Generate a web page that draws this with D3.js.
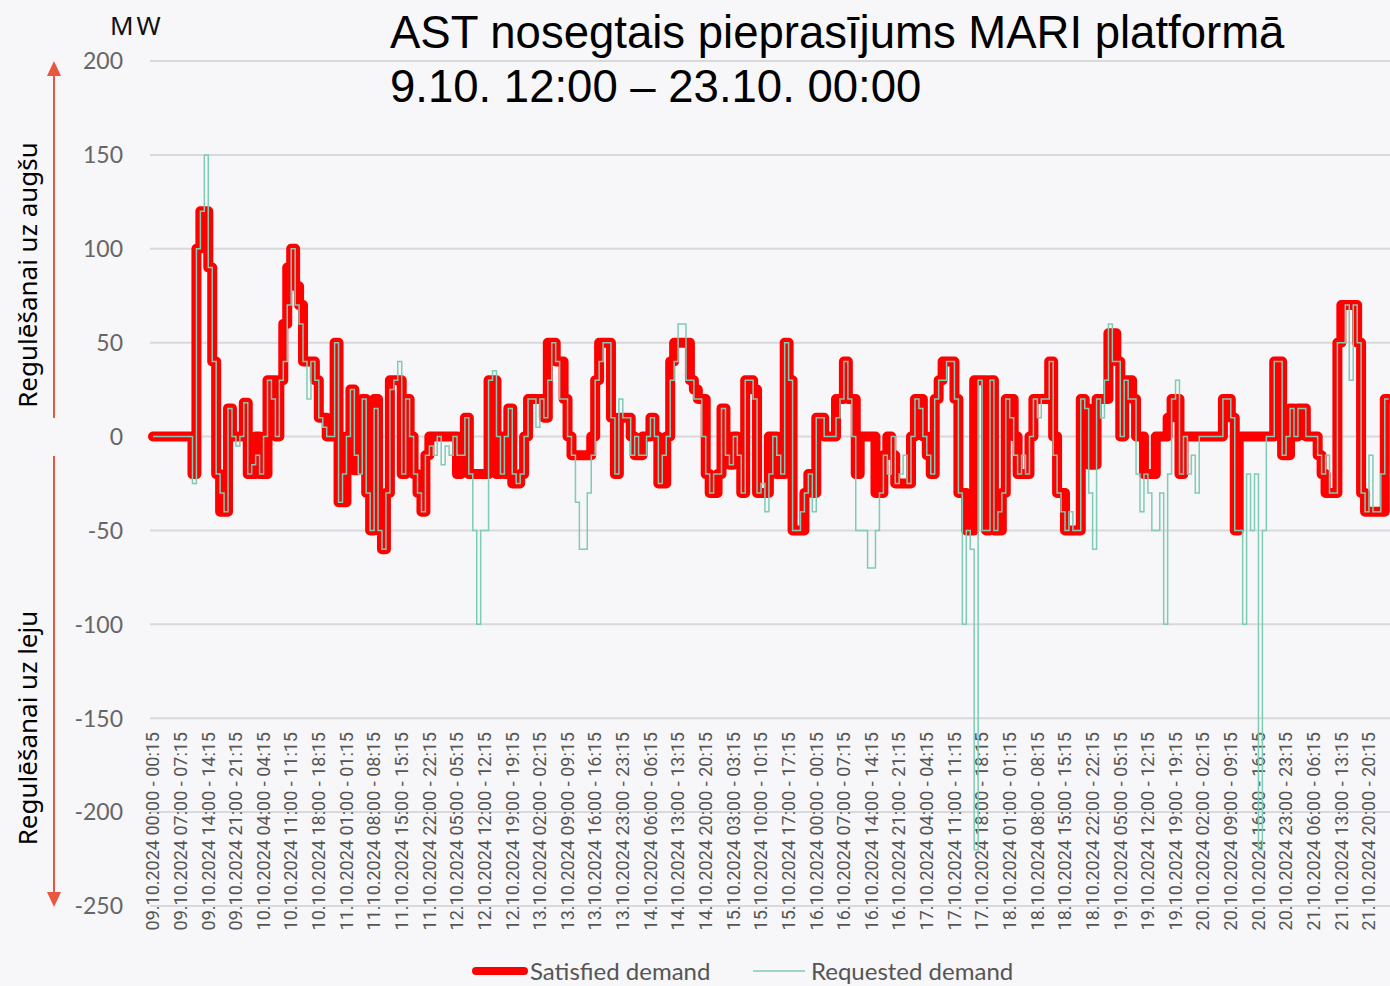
<!DOCTYPE html>
<html>
<head>
<meta charset="utf-8"/>
<script src="https://cdn.jsdelivr.net/npm/d3@7"></script>
<style>
body { margin: 0; background: #f7f6f8; }
svg { display: block; }
.grid line { stroke: #d9d8db; stroke-width: 2px; }
.ytick { font: 23px Lato, sans-serif; fill: #666; text-anchor: end; }
.xtick { font: 18px Roboto, sans-serif; fill: #555; text-anchor: end; }
.satisfied { fill: none; stroke: #ff0000; stroke-width: 10px; stroke-linejoin: round; stroke-linecap: round; }
.requested { fill: none; stroke: #7fcbb4; stroke-width: 1.5px; }
.legend { font: 24px Lato, sans-serif; fill: #555; }
.side { font: 26px "Noto Sans", sans-serif; fill: #000; text-anchor: middle; }
.title { font: 45.5px "Liberation Sans", Arial, sans-serif; fill: #000; }
</style>
</head>
<body>
<script>

// hourly values from 09.10.2024 00:00 (MW)
var satisfied = [
  0,0,0,0,0,0,0,0,0,0,
  -20,100,120,120,90,40,-20,-40,-40,15,
  0,0,0,18,-20,-20,0,-20,-20,30,
  30,0,30,60,90,100,80,70,40,40,
  40,30,10,10,0,0,50,-35,-35,0,
  25,-18,0,20,-30,-50,20,-50,-60,-30,
  30,30,30,-20,20,0,-20,-30,-40,-10,
  0,0,0,0,0,0,0,-20,0,10,
  -20,-20,-20,-20,-20,30,30,-20,0,-20,
  15,-25,-25,-20,0,20,20,20,20,10,
  50,50,40,40,20,0,-10,-10,-10,-10,
  -10,0,30,50,50,50,10,-20,10,10,
  10,0,-10,-10,0,0,10,0,-25,-25,
  0,40,50,50,50,50,30,25,20,20,
  -20,-30,-30,-20,15,0,-15,0,-15,-30,
  30,30,25,-30,-30,-30,0,0,-20,-20,
  50,30,-50,-50,-50,-30,-20,-30,10,10,
  0,0,0,20,20,40,20,20,-20,0,
  0,0,0,-30,-30,-10,0,-10,-25,-25,
  -25,-25,0,20,20,0,-10,-20,20,30,
  40,40,40,20,-30,-30,-50,-50,30,30,
  30,-50,30,-50,-50,-30,20,20,0,-20,
  -20,-20,0,20,20,20,20,40,0,-30,
  -30,-50,-50,-50,-50,20,15,-15,-15,20,
  20,20,55,55,40,0,30,30,20,0,
  0,-20,-20,-20,0,0,0,10,20,20,
  -20,0,0,0,0,0,0,0,0,0,
  0,20,20,10,-50,0,0,0,0,0,
  0,0,0,0,40,40,-10,-10,15,0,
  15,15,0,0,0,-10,-20,-30,-30,-30,
  50,70,70,70,70,50,-30,-40,-40,-40,
  -40,-40,20,20
];

var requested = [
  0,0,0,0,0,0,0,0,0,0,
  -25,100,120,150,90,40,-20,-30,-40,15,
  0,-5,0,18,-20,-15,-10,-20,0,30,
  20,0,30,40,70,100,70,60,40,20,
  40,30,10,5,0,0,50,-35,-20,0,
  25,-10,-20,20,-30,-50,15,-50,-60,-30,
  25,30,40,-20,20,0,-20,-30,-40,-10,
  -5,-10,0,-15,-5,-10,0,-10,-10,10,
  -20,-50,-100,-50,-50,30,35,0,-20,0,
  15,-20,-25,-20,0,20,20,5,20,10,
  30,50,40,20,20,0,-10,-35,-60,-60,
  -30,-10,30,40,50,50,10,-20,20,10,
  10,-10,0,-10,-10,0,10,0,-25,-10,
  0,30,40,60,60,30,30,20,20,0,
  -20,-30,-20,-20,15,-10,-15,0,-10,-30,
  30,30,20,-30,-25,-40,-20,0,-10,-20,
  50,30,-50,-50,-40,-30,-20,-40,10,10,
  0,0,0,10,20,40,20,0,-50,-50,
  -50,-70,-70,-50,-30,-10,-20,0,-25,-20,
  -10,-25,0,20,15,0,-10,-20,20,30,
  30,40,40,20,-30,-100,-50,-60,-220,30,
  -50,-50,30,-50,-40,-30,20,10,-10,-20,
  -10,-20,0,20,10,20,20,40,-10,-30,
  -40,-50,-40,-50,-50,20,15,-30,-60,20,
  10,30,60,40,40,0,30,20,20,-20,
  -40,-20,-30,-50,-50,-30,-100,-20,20,30,
  -20,0,-20,-10,-30,0,0,0,0,0,
  0,20,20,10,-50,-50,-100,-20,-50,-20,
  -220,-50,0,0,40,40,-10,0,15,0,
  15,15,0,0,0,-10,-20,-10,-30,-30,
  50,50,70,30,70,50,-30,-40,-10,-40,
  -40,-20,20,20
];

var yTicks = [200, 150, 100, 50, 0, -50, -100, -150, -200, -250];
var tickStepHours = 7;
var lastTickHour = 308;

var width = 1390, height = 986;
var start = new Date(2024, 9, 9, 0, 0);
var end = new Date(2024, 9, 23, 0, 0);

var x = d3.scaleTime()
    .domain([start, end])
    .range([153, 153 + 336 * 3.948]);

var y = d3.scaleLinear()
    .domain([-250, 200])
    .range([906, 61]);

var svg = d3.select("body").append("svg")
    .attr("width", width)
    .attr("height", height);

svg.append("rect")
    .attr("width", width)
    .attr("height", height)
    .attr("fill", "#f7f6f8");

// grid
svg.append("g").attr("class", "grid")
  .selectAll("line")
  .data(yTicks)
  .enter().append("line")
    .attr("x1", 150)
    .attr("x2", width)
    .attr("y1", function(d) { return y(d); })
    .attr("y2", function(d) { return y(d); });

svg.append("g")
  .selectAll("text")
  .data(yTicks)
  .enter().append("text")
    .attr("class", "ytick")
    .attr("x", 123)
    .attr("y", function(d) { return y(d); })
    .attr("dy", "0.36em")
    .text(function(d) { return d; });

// x tick labels, every 7 hours
var fmtA = d3.timeFormat("%d.%m.%Y %H:%M"), fmtB = d3.timeFormat("%H:15");
var xTicks = d3.range(0, lastTickHour + 1, tickStepHours).map(function(h) { return d3.timeHour.offset(start, h); });

svg.append("g")
  .selectAll("text")
  .data(xTicks)
  .enter().append("text")
    .attr("class", "xtick")
    .attr("transform", function(d) { return "translate(" + x(d) + ",732) rotate(-90)"; })
    .attr("dy", "0.35em")
    .text(function(d) { return fmtA(d) + " - " + fmtB(d); });

// series
function toPoints(arr) {
  return arr.map(function(v, i) { return { t: d3.timeHour.offset(start, i), v: v }; });
}

var line = d3.line()
    .x(function(d) { return x(d.t); })
    .y(function(d) { return y(d.v); })
    .curve(d3.curveStepAfter);

svg.append("path")
    .datum(toPoints(satisfied))
    .attr("class", "satisfied")
    .attr("d", line);

svg.append("path")
    .datum(toPoints(requested))
    .attr("class", "requested")
    .attr("d", line);

// side arrows + labels
var arrowColor = "#e8573f";
svg.append("line").attr("x1", 54).attr("x2", 54).attr("y1", 70).attr("y2", 418)
    .attr("stroke", arrowColor).attr("stroke-width", 2);
svg.append("path").attr("d", "M54,61 L47,76 L61,76 Z").attr("fill", arrowColor);
svg.append("line").attr("x1", 54).attr("x2", 54).attr("y1", 456).attr("y2", 898)
    .attr("stroke", arrowColor).attr("stroke-width", 2);
svg.append("path").attr("d", "M54,907 L47,892 L61,892 Z").attr("fill", arrowColor);

svg.append("text").attr("class", "side")
    .attr("transform", "translate(28,275) rotate(-90)")
    .attr("dy", "0.35em")
    .text("Regulēšanai uz augšu");
svg.append("text").attr("class", "side")
    .attr("transform", "translate(28,728) rotate(-90)")
    .attr("dy", "0.35em")
    .text("Regulēšanai uz leju");

svg.append("text")
    .attr("x", 110).attr("y", 35)
    .attr("style", "font: 26px 'Noto Sans', sans-serif; letter-spacing: 3px; fill: #111;")
    .text("MW");

// title
svg.append("text").attr("class", "title").attr("x", 390).attr("y", 48)
    .text("AST nosegtais pieprasījums MARI platformā");
svg.append("text").attr("class", "title").attr("x", 390).attr("y", 102)
    .text("9.10. 12:00 – 23.10. 00:00");

// legend
svg.append("line").attr("x1", 476).attr("x2", 524).attr("y1", 971).attr("y2", 971)
    .attr("stroke", "#ff0000").attr("stroke-width", 8).attr("stroke-linecap", "round");
svg.append("text").attr("class", "legend").attr("x", 530).attr("y", 980).text("Satisfied demand");
svg.append("line").attr("x1", 753).attr("x2", 805).attr("y1", 971).attr("y2", 971)
    .attr("stroke", "#7fcbb4").attr("stroke-width", 1.5);
svg.append("text").attr("class", "legend").attr("x", 811).attr("y", 980).text("Requested demand");

</script>
</body>
</html>
